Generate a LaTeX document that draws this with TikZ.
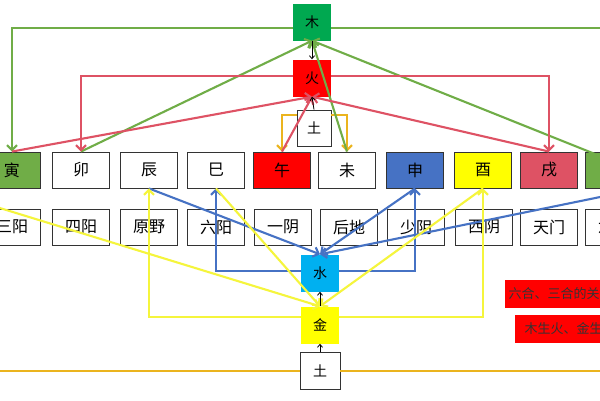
\documentclass[tikz,border=0pt]{standalone}
\usepackage{fontspec}
\setmainfont{Noto Sans CJK SC}
\usetikzlibrary{arrows.meta}
\definecolor{gA}{RGB}{0,168,80}
\definecolor{gB}{RGB}{112,173,71}
\definecolor{rB}{RGB}{222,82,100}
\definecolor{bB}{RGB}{70,114,196}
\definecolor{cyanB}{RGB}{0,176,240}
\definecolor{yB}{RGB}{255,255,0}
\definecolor{yL}{RGB}{245,245,60}
\definecolor{oL}{RGB}{235,180,30}
\begin{document}
\begin{tikzpicture}[x=1pt,y=-1pt,
  bx/.style={draw=black!80,line width=0.9pt,minimum width=57pt,minimum height=36pt,inner sep=0pt,font=\fontsize{16}{16}\selectfont},
  el/.style={minimum width=38pt,minimum height=37pt,inner sep=0pt,font=\fontsize{14}{14}\selectfont},
  ln/.style={line width=2.1pt,-{Straight Barb[length=5pt,width=10pt]}},
  sa/.style={line width=0.8pt,-{Straight Barb[length=3pt,width=5pt]}}]
\useasboundingbox (0,0) rectangle (600,400);
\clip (0,0) rectangle (600,400);
\fill[white] (0,0) rectangle (600,400);
% top row
\node[bx,fill=gB] (yin) at (12,170) {寅};
\node[bx] (mao) at (81,170) {卯};
\node[bx] (chen) at (149,170) {辰};
\node[bx] (si) at (216,170) {巳};
\node[bx,fill=red] (wu) at (282,170) {午};
\node[bx] (wei) at (347,170) {未};
\node[bx,fill=bB] (shen) at (415,170) {申};
\node[bx,fill=yB] (you) at (483,170) {酉};
\node[bx,fill=rB] (xu) at (549,170) {戌};
\node[bx,fill=gB] (hai) at (614,170) {亥};
% second row
\node[bx] (a1) at (12,227) {三阳};
\node[bx] (a2) at (81,227) {四阳};
\node[bx] (a3) at (149,227) {原野};
\node[bx] (a4) at (216,227) {六阳};
\node[bx] (a5) at (283,227) {一阴};
\node[bx] (a6) at (349,227) {后地};
\node[bx] (a7) at (416,227) {少阴};
\node[bx] (a8) at (484,227) {西阴};
\node[bx] (a9) at (549,227) {天门};
\node[bx] (a10) at (614,227) {六阴};
% elements
\node[el,fill=gA] (mu) at (312,22) {木};
\node[el,fill=red] (huo) at (312,78) {火};
\node[el,draw=black!80,line width=0.9pt,minimum width=34pt,minimum height=36pt] (tuA) at (314,128) {土};
\node[el,fill=cyanB] (shui) at (320,273) {水};
\node[el,fill=yB] (jin) at (320,325) {金};
\node[el,draw=black!80,line width=0.9pt,minimum width=40pt] (tuB) at (320,371) {土};
\coordinate (eR1) at (610,28);
\coordinate (eR2) at (610,160);
\coordinate (eR3) at (610,195);
\coordinate (eL1) at (-10,205);
\coordinate (eB1) at (-10,371);
\coordinate (eB2) at (610,371);
% orange
\draw[oL,line width=2.1pt] (eB1) -- (tuB.west) (tuB.east) -- (eB2);
\draw[ln,oL] (tuA.west|-0,115) -- (282,115) -- (wu.north);
\draw[ln,oL] (tuA.east|-0,115) -- (347,115) -- (wei.north);
% green
\draw[ln,gB] (mu.west|-0,28) -| (yin.north);
\draw[gB,line width=2.1pt] (mu.east|-0,28) -- (eR1);
\draw[ln,gB] (mao.north) -- (mu.south);
\draw[ln,gB] (wei.north) -- (mu.south);
\draw[ln,gB] (eR2) -- (mu.south);
% red
\draw[ln,rB] (huo.west|-0,76) -| (mao.north);
\draw[ln,rB] (huo.east|-0,76) -| (xu.north);
\draw[ln,rB] (yin.north) -- (huo.south);
\draw[ln,rB] (wu.north) -- (huo.south);
\draw[ln,rB] (xu.north) -- (huo.south);
% blue
\draw[ln,bB] (shui.west|-0,271) -| (si.south);
\draw[ln,bB] (shui.east|-0,271) -| (shen.south);
\draw[ln,bB] (chen.south) -- (shui.north);
\draw[ln,bB] (shen.south) -- (shui.north);
\draw[ln,bB] (eR3) -- (shui.north);
% yellow
\draw[ln,yL] (jin.west|-0,317) -| (chen.south);
\draw[ln,yL] (jin.east|-0,317) -| (you.south);
\draw[ln,yL] (eL1) -- (jin.north);
\draw[ln,yL] (si.south) -- (jin.north);
\draw[ln,yL] (you.south) -- (jin.north);
% small black
\draw[sa] (mu.south) -- (huo.north);
\draw[sa] (tuA.north) -- (huo.south);
\draw[sa] (jin.north) -- (shui.south);
\draw[sa] (tuB.north) -- (jin.south);
% notes
\node[fill=red,anchor=west,minimum height=28pt,minimum width=110pt,font=\fontsize{13}{13}\selectfont,text=black!80] (n1) at (505,294) {六合、三合的关系};
\node[fill=red,anchor=west,minimum height=28pt,minimum width=110pt,font=\fontsize{13}{13}\selectfont,text=black!80] (n2) at (515,329) {木生火、金生水};
\end{tikzpicture}
\end{document}
